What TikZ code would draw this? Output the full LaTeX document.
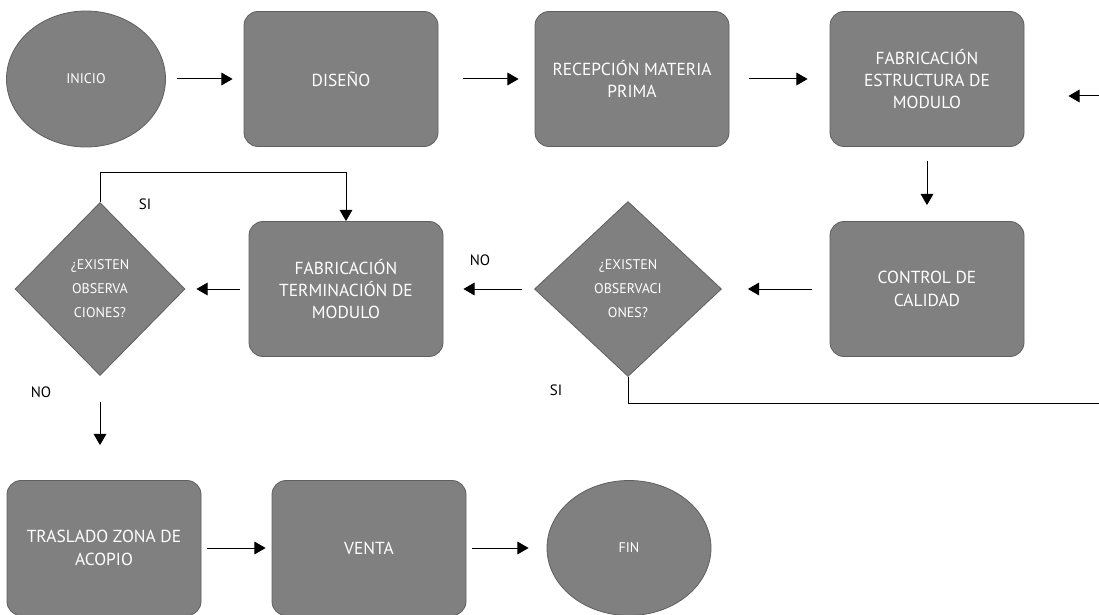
\documentclass[tikz,border=0pt]{standalone}
\usepackage{fontspec}
\setmainfont{PT Sans}
\usetikzlibrary{arrows,shapes,positioning}
\definecolor{boxgray}{RGB}{128,128,128}
\definecolor{edgegray}{RGB}{95,95,95}

\begin{document}
\begin{tikzpicture}[x=0.5pt,y=-0.5pt,>=triangle 60,node distance=2cm,
	Edge/.style={->,black,line width=0.5pt},
	Line/.style={-,black,line width=0.5pt},
	StepNode/.style={rectangle,rounded corners=7pt,fill=boxgray,draw=edgegray,text=white,font=\fontsize{8.7}{11.2}\selectfont,align=center,minimum width=97pt,minimum height=67.5pt,inner sep=0pt},
	EndNode/.style={ellipse,fill=boxgray,draw=edgegray,text=white,font=\fontsize{7}{9}\selectfont,inner sep=0pt},
	AskNode/.style={diamond,fill=boxgray,draw=edgegray,text=white,font=\fontsize{7}{12}\selectfont,align=center,inner sep=0pt},
	Label/.style={font=\fontsize{7.5}{9}\selectfont,text=black},
]
	\useasboundingbox (0,0) rectangle (1099,615);

	\node[EndNode,minimum width=79.5pt,minimum height=68pt] (inicio) at (86,79){INICIO};
	\node[StepNode] (diseno)[right of=inicio,node distance=127.5pt]{DISEÑO};
	\node[StepNode] (recepcion)[right of=diseno,node distance=145.5pt]{RECEPCIÓN MATERIA\\PRIMA};
	\node[StepNode] (fabest)[right of=recepcion,node distance=147.5pt]{FABRICACIÓN\\ESTRUCTURA DE\\MODULO};
	\node[StepNode] (control)[below of=fabest,node distance=105pt]{CONTROL DE\\CALIDAD};
	\node[AskNode,minimum width=93.5pt,minimum height=87.5pt] (pregunta2)[left of=control,node distance=149.5pt]{¿EXISTEN\\OBSERVACI\\ONES?};
	\node[StepNode] (fabterm)[left of=pregunta2,node distance=141pt]{FABRICACIÓN\\TERMINACIÓN DE\\MODULO};
	\node[AskNode,minimum width=85pt,minimum height=86.5pt] (pregunta1)[left of=fabterm,node distance=123pt]{¿EXISTEN\\OBSERVA\\CIONES?};
	\node[StepNode] (traslado) at (104,548){TRASLADO ZONA DE\\ACOPIO};
	\node[StepNode] (venta)[right of=traslado,node distance=132.5pt]{VENTA};
	\node[EndNode,minimum width=82pt,minimum height=67.5pt] (fin)[right of=venta,node distance=130pt]{FIN};

	\node[Label] (si1) at (145,204){SI};
	\node[Label] (no1) at (41,392){NO};
	\node[Label] (no2) at (480,260){NO};
	\node[Label] (si2) at (556,390){SI};

	\coordinate (vuelta1) at (1110,96);
	\coordinate (vuelta2) at (1110,403);

	\path[Edge]
	(inicio) edge[shorten <=5.5pt,shorten >=5.5pt] (diseno)
	(diseno) edge[shorten <=12.5pt,shorten >=8pt] (recepcion)
	(recepcion) edge[shorten <=10pt,shorten >=11pt] (fabest)
	(vuelta1) edge[shorten >=22pt] (vuelta1 -| fabest.east)
	(fabest) edge[shorten <=7pt,shorten >=8pt] (control)
	(control) edge[shorten <=9pt,shorten >=13pt] (pregunta2)
	(pregunta2) edge[shorten <=6pt,shorten >=10pt] (fabterm)
	(fabterm) edge[shorten <=4.5pt,shorten >=5.5pt] (pregunta1)
	(pregunta1.south) edge[shorten <=13pt,shorten >=17.5pt] (pregunta1.south |- traslado.north)
	(traslado) edge[shorten <=3pt,shorten >=3pt] (venta)
	(venta) edge[shorten <=3pt,shorten >=9pt] (fin)
	;

	\draw[Edge] (pregunta1.north) -- ++(0,-30) -| (fabterm.north);
	\draw[Line] (pregunta2.south) |- (vuelta2);
\end{tikzpicture}
\end{document}
